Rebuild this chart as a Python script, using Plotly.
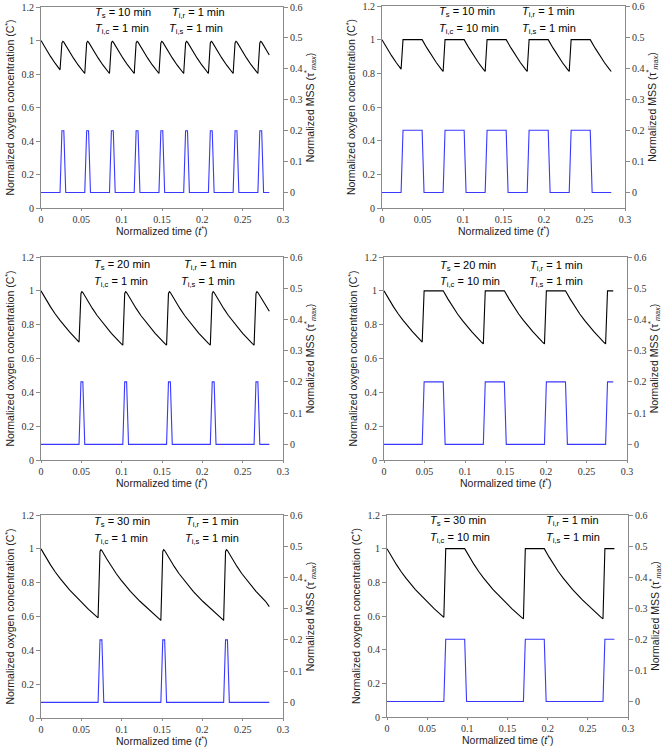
import plotly.graph_objects as go

W, H = 669, 747
T_REF = 424.0  # minutes corresponding to t* = 1

# ---------------- data (time in minutes) ----------------
# Panel 1: Ts = 10, Tic = 1
p1_t = [0, 2.5, 5, 7.5, 10,
        11, 11.5, 12, 14.5, 17, 19.5, 22, 23,
        24, 24.5, 25, 27.5, 30, 32.5, 35, 36,
        37, 37.5, 38, 40.5, 43, 45.5, 48, 49,
        50, 50.5, 51, 53.5, 56, 58.5, 61, 62,
        63, 63.5, 64, 66.5, 69, 71.5, 74, 75,
        76, 76.5, 77, 79.5, 82, 84.5, 87, 88,
        89, 89.5, 90, 92.5, 95, 97.5, 100, 101,
        102, 102.5, 103, 105.5, 108, 110.5, 113, 114,
        115, 115.5, 116, 118.5, 120]
p1_c = [1.0, 0.951, 0.905, 0.863, 0.825,
        0.985, 0.995, 0.99, 0.941, 0.896, 0.854, 0.817, 0.803,
        0.985, 0.995, 0.99, 0.941, 0.896, 0.854, 0.817, 0.803,
        0.985, 0.995, 0.99, 0.941, 0.896, 0.854, 0.817, 0.803,
        0.985, 0.995, 0.99, 0.941, 0.896, 0.854, 0.817, 0.803,
        0.985, 0.995, 0.99, 0.941, 0.896, 0.854, 0.817, 0.803,
        0.985, 0.995, 0.99, 0.941, 0.896, 0.854, 0.817, 0.803,
        0.985, 0.995, 0.99, 0.941, 0.896, 0.854, 0.817, 0.803,
        0.985, 0.995, 0.99, 0.941, 0.896, 0.854, 0.817, 0.803,
        0.985, 0.995, 0.99, 0.941, 0.914]
p1_bt = [0, 10, 11, 12, 13, 23, 24, 25, 26, 36, 37, 38, 39, 49, 50, 51, 52,
         62, 63, 64, 65, 75, 76, 77, 78, 88, 89, 90, 91, 101, 102, 103, 104,
         114, 115, 116, 117, 120]
p1_m = [0, 0, 0.2, 0.2, 0, 0, 0.2, 0.2, 0, 0, 0.2, 0.2, 0, 0, 0.2, 0.2, 0,
        0, 0.2, 0.2, 0, 0, 0.2, 0.2, 0, 0, 0.2, 0.2, 0, 0, 0.2, 0.2, 0,
        0, 0.2, 0.2, 0, 0]

# Panel 2: Ts = 10, Tic = 10
p2_t = [0, 2.5, 5, 7.5, 10,
        11, 21, 23.5, 26, 28.5, 31, 32,
        33, 43, 45.5, 48, 50.5, 53, 54,
        55, 65, 67.5, 70, 72.5, 75, 76,
        77, 87, 89.5, 92, 94.5, 97, 98,
        99, 109, 111.5, 114, 116.5, 119, 120]
p2_c = [1.0, 0.951, 0.905, 0.863, 0.825,
        1.0, 1.0, 0.951, 0.905, 0.863, 0.825, 0.811,
        1.0, 1.0, 0.951, 0.905, 0.863, 0.825, 0.811,
        1.0, 1.0, 0.951, 0.905, 0.863, 0.825, 0.811,
        1.0, 1.0, 0.951, 0.905, 0.863, 0.825, 0.811,
        1.0, 1.0, 0.951, 0.905, 0.863, 0.825, 0.811]
p2_bt = [0, 10, 11, 21, 22, 32, 33, 43, 44, 54, 55, 65, 66, 76, 77, 87, 88,
         98, 99, 109, 110, 120]
p2_m = [0, 0, 0.2, 0.2, 0, 0, 0.2, 0.2, 0, 0, 0.2, 0.2, 0, 0, 0.2, 0.2, 0,
        0, 0.2, 0.2, 0, 0]

# Panel 3: Ts = 20, Tic = 1
p3_t = [0, 2.5, 5, 7.5, 10, 15, 20,
        21, 21.5, 22, 24.5, 27, 29.5, 32, 37, 42, 43,
        44, 44.5, 45, 47.5, 50, 52.5, 55, 60, 65, 66,
        67, 67.5, 68, 70.5, 73, 75.5, 78, 83, 88, 89,
        90, 90.5, 91, 93.5, 96, 98.5, 101, 106, 111, 112,
        113, 113.5, 114, 116.5, 119, 120]
p3_c = [1.0, 0.951, 0.905, 0.863, 0.825, 0.757, 0.697,
        0.985, 0.995, 0.99, 0.941, 0.896, 0.854, 0.817, 0.749, 0.690, 0.679,
        0.985, 0.995, 0.99, 0.941, 0.896, 0.854, 0.817, 0.749, 0.690, 0.679,
        0.985, 0.995, 0.99, 0.941, 0.896, 0.854, 0.817, 0.749, 0.690, 0.679,
        0.985, 0.995, 0.99, 0.941, 0.896, 0.854, 0.817, 0.749, 0.690, 0.679,
        0.985, 0.995, 0.99, 0.941, 0.896, 0.879]
p3_bt = [0, 20, 21, 22, 23, 43, 44, 45, 46, 66, 67, 68, 69, 89, 90, 91, 92,
         112, 113, 114, 115, 120]
p3_m = [0, 0, 0.2, 0.2, 0, 0, 0.2, 0.2, 0, 0, 0.2, 0.2, 0, 0, 0.2, 0.2, 0,
        0, 0.2, 0.2, 0, 0]

# Panel 4: Ts = 20, Tic = 10
p4_t = [0, 2.5, 5, 7.5, 10, 15, 20,
        21, 31, 33.5, 36, 38.5, 41, 46, 51, 52,
        53, 63, 65.5, 68, 70.5, 73, 78, 83, 84,
        85, 95, 97.5, 100, 102.5, 105, 110, 115, 116,
        117, 120]
p4_c = [1.0, 0.951, 0.905, 0.863, 0.825, 0.757, 0.697,
        1.0, 1.0, 0.951, 0.905, 0.863, 0.825, 0.757, 0.697, 0.686,
        1.0, 1.0, 0.951, 0.905, 0.863, 0.825, 0.757, 0.697, 0.686,
        1.0, 1.0, 0.951, 0.905, 0.863, 0.825, 0.757, 0.697, 0.686,
        1.0, 1.0]
p4_bt = [0, 20, 21, 31, 32, 52, 53, 63, 64, 84, 85, 95, 96, 116, 117, 120]
p4_m = [0, 0, 0.2, 0.2, 0, 0, 0.2, 0.2, 0, 0, 0.2, 0.2, 0, 0, 0.2, 0.2]

# Panel 5: Ts = 30, Tic = 1
p5_t = [0, 2.5, 5, 7.5, 10, 15, 20, 25, 30,
        31, 31.5, 32, 34.5, 37, 39.5, 42, 47, 52, 57, 62, 63,
        64, 64.5, 65, 67.5, 70, 72.5, 75, 80, 85, 90, 95, 96,
        97, 97.5, 98, 100.5, 103, 105.5, 108, 113, 118, 120]
p5_c = [1.0, 0.951, 0.905, 0.863, 0.825, 0.757, 0.697, 0.642, 0.592,
        0.985, 0.995, 0.99, 0.941, 0.896, 0.854, 0.817, 0.749, 0.690, 0.636, 0.586, 0.577,
        0.985, 0.995, 0.99, 0.941, 0.896, 0.854, 0.817, 0.749, 0.690, 0.636, 0.586, 0.577,
        0.985, 0.995, 0.99, 0.941, 0.896, 0.854, 0.817, 0.749, 0.690, 0.658]
p5_bt = [0, 30, 31, 32, 33, 63, 64, 65, 66, 96, 97, 98, 99, 120]
p5_m = [0, 0, 0.2, 0.2, 0, 0, 0.2, 0.2, 0, 0, 0.2, 0.2, 0, 0]

# Panel 6: Ts = 30, Tic = 10
p6_t = [0, 2.5, 5, 7.5, 10, 15, 20, 25, 30,
        31, 41, 43.5, 46, 48.5, 51, 56, 61, 66, 71, 72,
        73, 83, 85.5, 88, 90.5, 93, 98, 103, 108, 113, 114,
        115, 120]
p6_c = [1.0, 0.951, 0.905, 0.863, 0.825, 0.757, 0.697, 0.642, 0.592,
        1.0, 1.0, 0.951, 0.905, 0.863, 0.825, 0.757, 0.697, 0.642, 0.592, 0.583,
        1.0, 1.0, 0.951, 0.905, 0.863, 0.825, 0.757, 0.697, 0.642, 0.592, 0.583,
        1.0, 1.0]
p6_bt = [0, 30, 31, 41, 42, 72, 73, 83, 84, 114, 115, 120]
p6_m = [0, 0, 0.2, 0.2, 0, 0, 0.2, 0.2, 0, 0, 0.2, 0.2]

# Annotation labels per panel: (Ts, Tic, Tir, Tis)
labels = [("10", "1", "1", "1"), ("10", "10", "1", "1"),
          ("20", "1", "1", "1"), ("20", "10", "1", "1"),
          ("30", "1", "1", "1"), ("30", "10", "1", "1")]

X_TITLE = "Normalized time (<i>t</i><sup>*</sup>)"
YL_TITLE = "Normalized oxygen concentration (C<sup>*</sup>)"
YR_TITLE = "Normalized MSS (τ<sup>*</sup><sub><i>max</i></sub>)"

series = [(p1_t, p1_c, p1_bt, p1_m), (p2_t, p2_c, p2_bt, p2_m),
          (p3_t, p3_c, p3_bt, p3_m), (p4_t, p4_c, p4_bt, p4_m),
          (p5_t, p5_c, p5_bt, p5_m), (p6_t, p6_c, p6_bt, p6_m)]

# ---------------- layout geometry (pixels) ----------------
boxes = [(41, 283, 7, 208), (382, 625, 6, 208),
         (41, 283, 257, 460), (384, 627, 257, 460),
         (41, 283, 515, 718), (387, 628, 515, 717)]
ann_pos = [(93, 170, 167, 13, 29), (437, 520, 520, 12, 29),
           (92, 182, 179, 265, 282), (438, 528, 527, 266, 282),
           (92, 184, 183, 522, 539), (428, 544, 544, 521, 538)]

AX = "#8a8a8a"
TICKFONT = dict(family="Liberation Serif", size=10, color="#333333")
TITLEFONT = dict(family="Liberation Sans", size=10.5, color="#222222")

fig = go.Figure()
layout = dict(width=W, height=H, margin=dict(l=0, r=0, t=0, b=0),
              paper_bgcolor="white", plot_bgcolor="white",
              showlegend=False, template="none")
annotations = []

for i, ((tb, cb, tm, mm), (l, r, t, b)) in enumerate(zip(series, boxes)):
    n = i + 1
    xa = "x" if n == 1 else f"x{n}"
    yl = 2 * n - 1
    yr = 2 * n
    yla = "y" if yl == 1 else f"y{yl}"
    yra = f"y{yr}"
    fig.add_trace(go.Scatter(x=[v / T_REF for v in tb], y=cb, mode="lines",
                             line=dict(color="black", width=1.1),
                             xaxis=xa, yaxis=yla, name="C*"))
    fig.add_trace(go.Scatter(x=[v / T_REF for v in tm], y=mm, mode="lines",
                             line=dict(color="#3838ff", width=1.1),
                             xaxis=xa, yaxis=yra, name="MSS"))
    xd = [l / W, r / W]
    yd = [1 - b / H, 1 - t / H]
    xkey = "xaxis" if n == 1 else f"xaxis{n}"
    ylkey = "yaxis" if yl == 1 else f"yaxis{yl}"
    yrkey = f"yaxis{yr}"
    layout[xkey] = dict(domain=xd, anchor=yla, range=[0, 0.3], dtick=0.05, tick0=0,
                        showgrid=False, zeroline=False, showline=True, linecolor=AX,
                        linewidth=1, mirror=True, ticks="outside", ticklen=2,
                        tickcolor=AX, tickfont=TICKFONT, automargin=False)
    layout[ylkey] = dict(domain=yd, anchor=xa, range=[0, 1.2], dtick=0.2, tick0=0,
                         showgrid=False, zeroline=False, showline=True, linecolor=AX,
                         linewidth=1, ticks="outside", ticklen=4, tickcolor=AX,
                         tickfont=TICKFONT, automargin=False,
                         title=dict(text=YL_TITLE, font=TITLEFONT, standoff=4))
    layout[yrkey] = dict(domain=yd, anchor=xa, overlaying=yla, side="right",
                         range=[-0.05, 0.6], dtick=0.1, tick0=0,
                         showgrid=False, zeroline=False, showline=True, linecolor=AX,
                         linewidth=1, ticks="outside", ticklen=4, tickcolor=AX,
                         tickfont=TICKFONT, automargin=False,
                         title=dict(text=YR_TITLE, font=TITLEFONT, standoff=4))
    # x-axis title below the axis line
    annotations.append(dict(x=(l + r) / 2 / W, y=1 - (b + 22.5) / H, xref="paper", yref="paper",
                            xanchor="center", yanchor="middle", showarrow=False,
                            text=X_TITLE, font=TITLEFONT))
    ts, tic, tir, tis = labels[i]
    x1, x2r, x2s, y1, y2 = ann_pos[i]
    afont = dict(family="Liberation Sans", size=11, color="black")
    for (ax_, ay_, txt) in [
        (x1, y1, f"<i>T</i><sub>s</sub> = {ts} min"),
        (x1, y2, f"<i>T</i><sub>i,c</sub> = {tic} min"),
        (x2r, y1, f"<i>T</i><sub>i,r</sub> = {tir} min"),
        (x2s, y2, f"<i>T</i><sub>i,s</sub> = {tis} min"),
    ]:
        annotations.append(dict(x=ax_ / W, y=1 - ay_ / H, xref="paper", yref="paper",
                                xanchor="left", yanchor="middle", showarrow=False,
                                text=txt, font=afont))

layout["annotations"] = annotations
fig.update_layout(**layout)
fig.write_html("out.html", config={"displayModeBar": False},
               post_script="document.body.style.margin='0';document.body.style.overflow='hidden';")
